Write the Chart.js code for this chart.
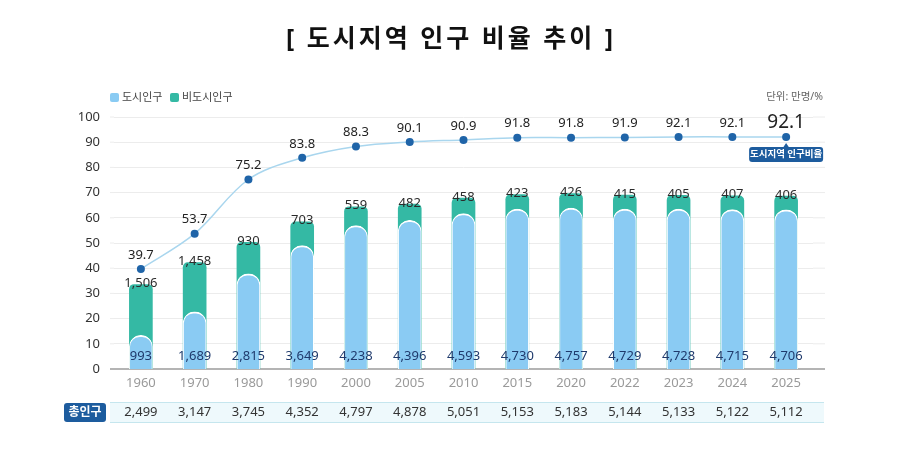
<!DOCTYPE html>
<html lang="ko">
<head>
<meta charset="utf-8">
<title>도시지역 인구 비율 추이</title>
<script src="https://cdn.jsdelivr.net/npm/chart.js@4.4.1/dist/chart.umd.min.js"></script>
<style>
  html, body { margin: 0; padding: 0; background: #fff; }
  #wrap { width: 900px; height: 450px; }
</style>
</head>
<body>
<div id="wrap"><canvas id="myChart" width="900" height="450"></canvas></div>
<script>
const years = ['1960', '1970', '1980', '1990', '2000', '2005', '2010', '2015', '2020', '2022', '2023', '2024', '2025'];
const urbanPop = [993, 1689, 2815, 3649, 4238, 4396, 4593, 4730, 4757, 4729, 4728, 4715, 4706];
const ruralPop = [1506, 1458, 930, 703, 559, 482, 458, 423, 426, 415, 405, 407, 406];
const totalPop = [2499, 3147, 3745, 4352, 4797, 4878, 5051, 5153, 5183, 5144, 5133, 5122, 5112];
const urbanRatio = [39.7, 53.7, 75.2, 83.8, 88.3, 90.1, 90.9, 91.8, 91.8, 91.9, 92.1, 92.1, 92.1];

const FONT = "'Noto Sans', 'Noto Sans CJK KR', sans-serif";
const BLUE = '#8acbf3';
const TEAL = '#34b9a4';
const NAVY = '#1d5c9e';
const fmt = (n) => n.toLocaleString('en-US');

// title, legend, unit, value labels, total row
const decorations = {
  id: 'decorations',
  beforeDatasetsDraw(chart) {
    const ctx = chart.ctx;
    const area = chart.chartArea;
    const y = chart.scales.y;
    ctx.save();
    // stretch grid lines a bit past the plot like the original
    y.ticks.forEach((t) => {
      const py = y.getPixelForValue(t.value);
      ctx.strokeStyle = t.value === 0 ? '#b4b4b4' : '#ececec';
      ctx.lineWidth = t.value === 0 ? 2 : 1;
      ctx.beginPath();
      ctx.moveTo(area.right, py);
      ctx.lineTo(825, py);
      ctx.moveTo(110, py);
      ctx.lineTo(area.left, py);
      ctx.stroke();
    });
    ctx.restore();
  },
  afterDatasetsDraw(chart) {
    const ctx = chart.ctx;
    const x = chart.scales.x;
    const y = chart.scales.y;
    const yBar = chart.scales.yBar;
    ctx.save();
    ctx.textAlign = 'center';
    ctx.textBaseline = 'middle';

    years.forEach((yr, i) => {
      const px = x.getPixelForValue(i);
      // non-urban value at top of teal bar
      ctx.font = '13px ' + FONT;
      ctx.fillStyle = '#2b2b2b';
      ctx.fillText(fmt(ruralPop[i]), px, yBar.getPixelForValue(totalPop[i]) - 1);
      // urban value near bottom
      ctx.fillStyle = '#1f3a6c';
      ctx.fillText(fmt(urbanPop[i]), px, y.getPixelForValue(0) - 13);
      // ratio above the point
      const last = i === years.length - 1;
      ctx.fillStyle = '#222';
      ctx.font = last ? '19px ' + FONT : '13px ' + FONT;
      ctx.fillText(urbanRatio[i].toFixed(1), px, y.getPixelForValue(urbanRatio[i]) - 14);
    });

    // tag under the last point
    const lx = x.getPixelForValue(years.length - 1);
    const ly = y.getPixelForValue(urbanRatio[urbanRatio.length - 1]);
    ctx.fillStyle = NAVY;
    ctx.beginPath();
    ctx.roundRect(lx - 37, ly + 10, 74, 15, 3);
    ctx.fill();
    ctx.beginPath();
    ctx.moveTo(lx - 3, ly + 10.5);
    ctx.lineTo(lx, ly + 6);
    ctx.lineTo(lx + 3, ly + 10.5);
    ctx.fill();
    ctx.fillStyle = '#fff';
    ctx.font = 'bold 9.5px ' + FONT;
    ctx.fillText('도시지역 인구비율', lx, ly + 17.8);
    ctx.restore();
  },
  afterDraw(chart) {
    const ctx = chart.ctx;
    const x = chart.scales.x;
    ctx.save();
    ctx.textBaseline = 'middle';
    // title
    ctx.textAlign = 'center';
    ctx.fillStyle = '#111';
    ctx.font = 'bold 25px ' + FONT;
    ctx.letterSpacing = '3px';
    ctx.fillText('[ 도시지역 인구 비율 추이 ]', 451, 40);
    ctx.letterSpacing = '0px';

    // legend
    ctx.textAlign = 'left';
    ctx.font = '11px ' + FONT;
    const items = [['도시인구', BLUE, 110], ['비도시인구', TEAL, 170]];
    items.forEach(([label, color, lx]) => {
      ctx.fillStyle = color;
      ctx.beginPath();
      ctx.roundRect(lx, 93, 9, 9, 2);
      ctx.fill();
      ctx.fillStyle = '#444';
      ctx.fillText(label, lx + 12, 97.5);
    });

    // unit
    ctx.textAlign = 'right';
    ctx.fillStyle = '#666';
    ctx.font = '10.5px ' + FONT;
    ctx.fillText('단위: 만명/%', 823, 97);

    // total population row
    ctx.fillStyle = '#eef9fc';
    ctx.fillRect(110, 402.5, 714, 20);
    ctx.strokeStyle = '#c5e6ee';
    ctx.lineWidth = 1;
    ctx.beginPath();
    ctx.moveTo(110, 402.5);
    ctx.lineTo(824, 402.5);
    ctx.moveTo(110, 422.5);
    ctx.lineTo(824, 422.5);
    ctx.stroke();
    ctx.fillStyle = NAVY;
    ctx.beginPath();
    ctx.roundRect(64, 403, 42, 19, 3);
    ctx.fill();
    ctx.fillStyle = '#fff';
    ctx.textAlign = 'center';
    ctx.font = 'bold 12px ' + FONT;
    ctx.fillText('총인구', 85, 412.5);

    ctx.font = '13px ' + FONT;
    ctx.fillStyle = '#333';
    years.forEach((yr, i) => {
      ctx.fillText(fmt(totalPop[i]), x.getPixelForValue(i), 412.5);
    });
    ctx.restore();
  }
};

const ctx = document.getElementById('myChart').getContext('2d');
const myChart = new Chart(ctx, {
  type: 'bar',
  data: {
    labels: years,
    datasets: [
      {
        type: 'line',
        label: '도시지역 인구비율',
        data: urbanRatio,
        yAxisID: 'y',
        order: 0,
        borderColor: '#a9d6ee',
        borderWidth: 1.5,
        tension: 0.35,
        pointRadius: 4,
        pointBackgroundColor: '#1f64a8',
        pointBorderWidth: 0,
        fill: false
      },
      {
        label: '도시인구',
        data: urbanPop,
        yAxisID: 'yBar',
        order: 1,
        backgroundColor: BLUE,
        borderColor: '#ffffff',
        borderWidth: {top: 2, left: 1, right: 1, bottom: 0},
        borderSkipped: 'bottom',
        borderRadius: {topLeft: 20, topRight: 20},
        barThickness: 23
      },
      {
        label: '비도시인구',
        data: totalPop,
        yAxisID: 'yBar',
        order: 2,
        backgroundColor: TEAL,
        borderWidth: 0,
        borderSkipped: 'bottom',
        borderRadius: {topLeft: 5, topRight: 5},
        barThickness: 23
      }
    ]
  },
  options: {
    responsive: false,
    animation: false,
    layout: {
      padding: {left: 60, right: 87, top: 117, bottom: 60}
    },
    plugins: {
      legend: { display: false },
      title: { display: false },
      tooltip: { enabled: false }
    },
    scales: {
      x: {
        stacked: true,
        afterFit: (scale) => { scale.height = 21; },
        grid: { display: false, drawTicks: false },
        border: { display: false },
        ticks: {
          color: '#9a9a9a',
          padding: 6,
          maxRotation: 0,
          font: { family: FONT, size: 13 }
        }
      },
      y: {
        min: 0,
        max: 100,
        position: 'left',
        afterFit: (scale) => { scale.width = 54; },
        border: { display: false },
        grid: {
          drawTicks: false,
          color: (c) => (c.tick && c.tick.value === 0 ? '#b4b4b4' : '#ececec'),
          lineWidth: (c) => (c.tick && c.tick.value === 0 ? 2 : 1)
        },
        ticks: {
          stepSize: 10,
          padding: 14,
          color: '#333',
          font: { family: FONT, size: 13 }
        }
      },
      yBar: {
        display: false,
        stacked: false,
        min: 0,
        max: 7450
      }
    }
  },
  plugins: [decorations]
});
</script>
</body>
</html>
